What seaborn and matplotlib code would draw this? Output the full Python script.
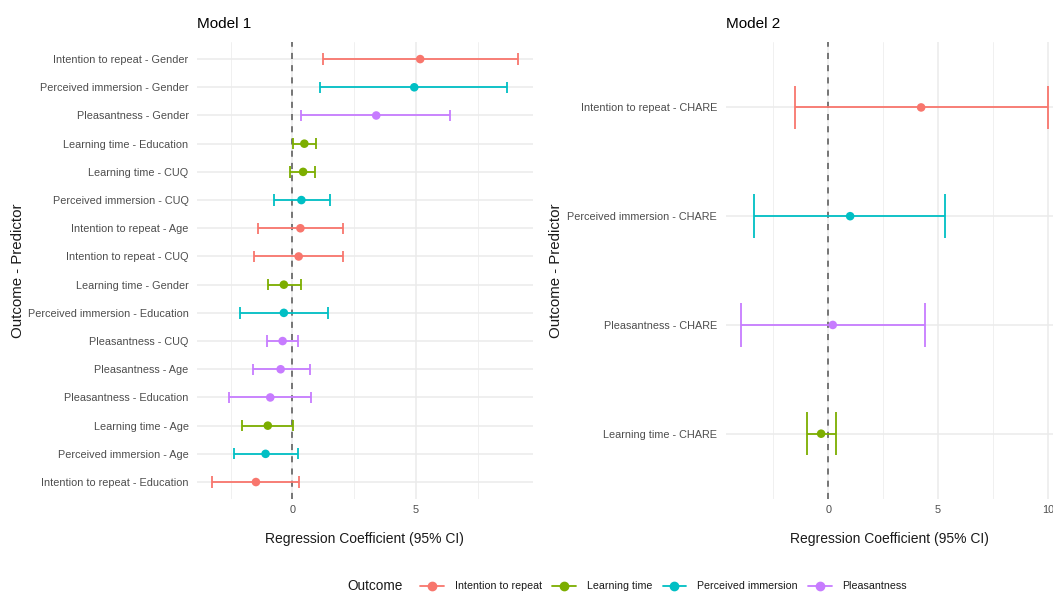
import numpy as np
import pandas as pd
import matplotlib.pyplot as plt
from matplotlib.lines import Line2D
import seaborn as sns

# Outcome levels and ggplot-like colours
outcomes = ["Intention to repeat", "Learning time", "Perceived immersion", "Pleasantness"]
colors = ["#F8766D", "#7CAE00", "#00BFC4", "#C77CFF"]

# Model 1, rows from top to bottom
m1_outcome = ["Intention to repeat", "Perceived immersion", "Pleasantness", "Learning time",
              "Learning time", "Perceived immersion", "Intention to repeat", "Intention to repeat",
              "Learning time", "Perceived immersion", "Pleasantness", "Pleasantness",
              "Pleasantness", "Learning time", "Perceived immersion", "Intention to repeat"]
m1_predictor = ["Gender", "Gender", "Gender", "Education", "CUQ", "CUQ", "Age", "CUQ",
                "Gender", "Education", "CUQ", "Age", "Education", "Age", "Age", "Education"]
m1_est = [5.17, 4.93, 3.39, 0.48, 0.43, 0.36, 0.32, 0.25,
          -0.35, -0.35, -0.40, -0.48, -0.90, -1.00, -1.09, -1.48]
m1_lo = [1.25, 1.12, 0.35, 0.01, -0.10, -0.76, -1.40, -1.54,
         -1.00, -2.12, -1.04, -1.59, -2.56, -2.05, -2.38, -3.25]
m1_hi = [9.11, 8.68, 6.39, 0.97, 0.93, 1.52, 2.06, 2.04,
         0.33, 1.43, 0.21, 0.69, 0.76, 0.04, 0.22, 0.25]

# Model 2, rows from top to bottom
m2_outcome = ["Intention to repeat", "Perceived immersion", "Pleasantness", "Learning time"]
m2_predictor = ["CHARE", "CHARE", "CHARE", "CHARE"]
m2_est = [4.23, 1.00, 0.21, -0.32]
m2_lo = [-1.53, -3.36, -3.97, -0.97]
m2_hi = [10.00, 5.32, 4.41, 0.35]

palette = dict(zip(outcomes, colors))

sns.set_theme(style="whitegrid")
plt.rcParams['font.family'] = ['Liberation Sans', 'DejaVu Sans']

fig = plt.figure(figsize=(10.53, 5.94), dpi=100)
ax1 = fig.add_axes([0.187, 0.16, 0.319, 0.769])
ax2 = fig.add_axes([0.689, 0.16, 0.311, 0.769])


def forest(ax, outcome, predictor, est, lo, hi, xlim, xticks, title, ylab_x):
    df = pd.DataFrame({"outcome": outcome, "predictor": predictor,
                       "est": est, "lo": lo, "hi": hi})
    df["label"] = df["outcome"] + " - " + df["predictor"]
    df["pos"] = np.arange(len(df))
    df["color"] = df["outcome"].map(palette)

    ax.axvline(0, color="#555555", lw=1.1, ls=(0, (4, 4)), zorder=2)
    ax.hlines(df["pos"], df["lo"], df["hi"], colors=df["color"], lw=1.3, zorder=3)
    ax.vlines(df["lo"], df["pos"] - 0.2, df["pos"] + 0.2, colors=df["color"], lw=1.3, zorder=3)
    ax.vlines(df["hi"], df["pos"] - 0.2, df["pos"] + 0.2, colors=df["color"], lw=1.3, zorder=3)
    sns.scatterplot(data=df, x="est", y="pos", hue="outcome", palette=palette,
                    s=38, linewidth=0, legend=False, ax=ax, zorder=4)

    ax.set_xlim(*xlim)
    ax.set_ylim(len(df) - 0.4, -0.6)
    ax.set_yticks(df["pos"], df["label"])
    ax.set_xticks(xticks, [str(t) for t in xticks])
    ax.set_xticks([-2.5, 2.5, 7.5], minor=True)
    ax.grid(which="major", color="#EBEBEB", lw=1.1)
    ax.grid(which="minor", axis="x", color="#F0F0F0", lw=0.7)
    ax.set_facecolor("white")
    for s in ax.spines.values():
        s.set_visible(False)
    ax.tick_params(axis="both", which="both", length=0, labelsize=7.8, colors="#4D4D4D")
    ax.tick_params(axis="y", pad=6)
    ax.tick_params(axis="x", pad=4)

    ax.set_xlabel("Regression Coefficient (95% CI)", fontsize=10, color="#1A1A1A")
    ax.xaxis.set_label_coords(0.5, -0.072)
    ax.set_ylabel("Outcome - Predictor", fontsize=10.8, color="#1A1A1A")
    ax.yaxis.set_label_coords(ylab_x, 0.5)
    ax.text(0, 1.04, title, transform=ax.transAxes, fontsize=11, va="center",
            ha="left", color="black")


forest(ax1, m1_outcome, m1_predictor, m1_est, m1_lo, m1_hi,
       (-3.87, 9.73), [0, 5], "Model 1", -0.512)
forest(ax2, m2_outcome, m2_predictor, m2_est, m2_lo, m2_hi,
       (-4.67, 10.23), [0, 5, 10], "Model 2", -0.497)

# legend at the bottom
handles = [Line2D([0], [0], color=c, marker="o", lw=1.3, ms=6) for c in colors]
fig.text(347 / 1053, 0.013, "Outcome", fontsize=9.8, va="center", ha="left", color="#1A1A1A")
fig.legend(handles, outcomes, loc="center left", bbox_to_anchor=(415 / 1053, 0.013),
           ncol=4, frameon=False, fontsize=7.7, borderpad=0, handlelength=2.2,
           handletextpad=1.0, columnspacing=1.0, labelcolor="#1A1A1A")

fig.savefig("out.png", dpi=100)
